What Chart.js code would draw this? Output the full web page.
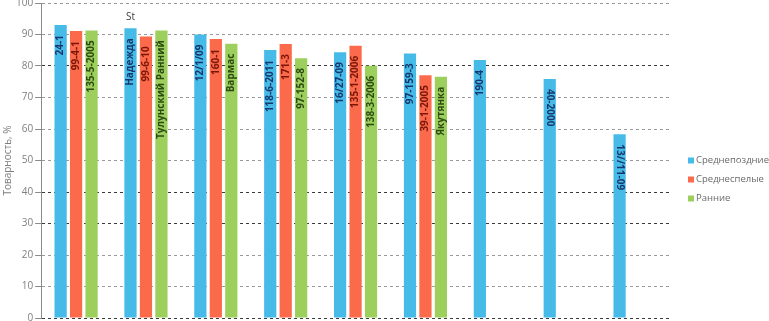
<!DOCTYPE html>
<html>
<head>
<meta charset="utf-8">
<script src="https://cdn.jsdelivr.net/npm/chart.js@4/dist/chart.umd.min.js"></script>
<style>
  html, body { margin: 0; padding: 0; background: #fff; }
  #wrap { width: 769px; height: 321px; position: relative; }
</style>
</head>
<body>
<div id="wrap"><canvas id="c" width="769" height="321"></canvas></div>
<script>
// ---- data ----
const categories = ['1', '2', '3', '4', '5', '6', '7', '8', '9'];
const seriesNames = ['Среднепоздние', 'Среднеспелые', 'Ранние'];
const lateValues  = [93.0, 92.0, 90.0, 85.1, 84.4, 84.0, 81.9, 75.9, 58.3];
const midValues   = [91.1, 89.4, 88.6, 87.0, 86.4, 77.1, null, null, null];
const earlyValues = [91.3, 91.3, 87.1, 82.5, 80.1, 76.6, null, null, null];
const lateLabels  = ['24-1', 'Надежда', '12/1/09', '118-6-2011', '16/27-09', '97-159-3', '190-4', '40-2000', '13//11-09'];
const midLabels   = ['99-4-1', '99-6-10', '160-1', '171-3', '135-1-2006', '39-1-2005', null, null, null];
const earlyLabels = ['135-5-2005', 'Тулунский Ранний', 'Вармас', '97-152-8', '138-3-2006', 'Якутянка', null, null, null];
const topNotes    = [null, 'St', null, null, null, null, null, null, null];
const yTicks = [0, 10, 20, 30, 40, 50, 60, 70, 80, 90, 100];

// ---- styles ----
const barColors = ['#47bbe7', '#fb6a4b', '#9ccf5c'];
const labelColors = ['#17386e', '#7a1608', '#2c4a12'];
const flippedCategories = [7, 8];
const seriesLabels = [lateLabels, midLabels, earlyLabels];

const barLabelPlugin = {
  id: 'barLabels',
  afterDatasetsDraw(chart) {
    const ctx = chart.ctx;
    ctx.save();
    ctx.font = 'bold 10px "Open Sans", sans-serif';
    ctx.textBaseline = 'middle';
    chart.data.datasets.forEach((ds, d) => {
      const meta = chart.getDatasetMeta(d);
      meta.data.forEach((bar, i) => {
        const txt = seriesLabels[d][i];
        if (ds.data[i] == null || !txt) return;
        ctx.save();
        ctx.fillStyle = labelColors[d];
        ctx.translate(bar.x, bar.y + 10);
        if (flippedCategories.includes(i)) {
          ctx.rotate(Math.PI / 2);
          ctx.textAlign = 'left';
        } else {
          ctx.rotate(-Math.PI / 2);
          ctx.textAlign = 'right';
        }
        ctx.fillText(txt, 0, 0);
        ctx.restore();
      });
    });
    // notes above bars
    const meta0 = chart.getDatasetMeta(0);
    ctx.font = '10px "Open Sans", sans-serif';
    ctx.fillStyle = '#404040';
    ctx.textAlign = 'center';
    meta0.data.forEach((bar, i) => {
      if (topNotes[i]) ctx.fillText(topNotes[i], bar.x, bar.y - 11);
    });
    ctx.restore();
  }
};

const legendPlugin = {
  id: 'sideLegend',
  afterDraw(chart) {
    const ctx = chart.ctx;
    const a = chart.chartArea;
    const x = a.right + 18;
    const y0 = (a.top + a.bottom) / 2;
    ctx.save();
    ctx.font = '9.5px "Open Sans", sans-serif';
    ctx.textBaseline = 'middle';
    ctx.textAlign = 'left';
    chart.data.datasets.forEach((ds, d) => {
      const y = y0 + d * 19;
      ctx.fillStyle = ds.backgroundColor;
      ctx.fillRect(x, y - 3, 6, 6);
      ctx.fillStyle = '#6a6a6a';
      ctx.fillText(ds.label, x + 8, y);
    });
    ctx.restore();
  }
};

const darkGrid = [0, 30, 40, 80];

new Chart(document.getElementById('c'), {
  type: 'bar',
  data: {
    labels: categories,
    datasets: [
      { label: seriesNames[0], data: lateValues,  backgroundColor: barColors[0] },
      { label: seriesNames[1], data: midValues,   backgroundColor: barColors[1] },
      { label: seriesNames[2], data: earlyValues, backgroundColor: barColors[2] }
    ]
  },
  options: {
    responsive: false,
    animation: false,
    layout: { padding: { left: 2, right: 99, top: 0, bottom: 0 } },
    datasets: { bar: { barPercentage: 0.79, categoryPercentage: 0.664 } },
    plugins: { legend: { display: false }, tooltip: { enabled: false } },
    scales: {
      x: { display: false },
      y: {
        min: 0, max: 100,
        afterBuildTicks(s) { s.ticks = yTicks.map(v => ({ value: v })); },
        afterFit(s) { s.paddingTop = 3; s.paddingBottom = 3; },
        ticks: { color: '#7f7f7f', font: { family: 'Open Sans', size: 10 }, padding: 2 },
        grid: {
          color: (c) => darkGrid.includes(c.tick && c.tick.value) ? '#3a3a3a' : '#9a9a9a',
          lineWidth: 1,
          tickLength: 6,
          tickColor: '#8a8a8a'
        },
        border: { display: true, color: '#8a8a8a', width: 1, dash: [3, 3] },
        title: {
          display: true, text: 'Товарность, %', color: '#7f7f7f',
          font: { family: 'Open Sans', size: 10 }, padding: { top: 0, bottom: 0 }
        }
      }
    }
  },
  plugins: [barLabelPlugin, legendPlugin]
});
</script>
</body>
</html>
